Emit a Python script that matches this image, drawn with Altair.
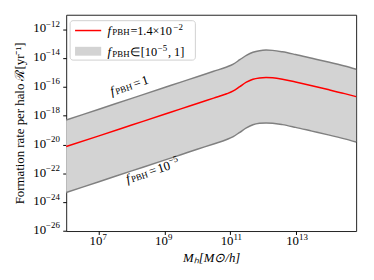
import altair as alt
import pandas as pd

# --- data (log10 values) ---
log_mass = [6.0, 7.0, 8.0, 9.0, 9.5, 10.0, 10.5, 10.9, 11.1, 11.3, 11.5, 11.7,
            11.9, 12.1, 12.3, 12.6, 13.0, 13.5, 14.0, 14.5, 14.85]
log_rate_f1 = [-18.30, -17.55, -16.80, -16.05, -15.67, -15.30, -14.92, -14.62,
               -14.42, -14.12, -13.82, -13.60, -13.49, -13.45, -13.47, -13.57,
               -13.76, -14.02, -14.28, -14.56, -14.78]
log_rate_best = [-20.14, -19.40, -18.65, -17.90, -17.53, -17.15, -16.78, -16.48,
                 -16.28, -15.98, -15.68, -15.47, -15.38, -15.35, -15.37, -15.47,
                 -15.67, -15.92, -16.19, -16.47, -16.68]
log_rate_f5 = [-23.33, -22.58, -21.83, -21.08, -20.71, -20.33, -19.96, -19.65,
               -19.45, -19.15, -18.85, -18.63, -18.53, -18.50, -18.52, -18.62,
               -18.81, -19.07, -19.33, -19.61, -19.83]

x_ticks = [7, 9, 11, 13]
y_ticks = [-26, -24, -22, -20, -18, -16, -14, -12]

df = pd.DataFrame({
    "m": [10 ** v for v in log_mass],
    "up": [10 ** v for v in log_rate_f1],
    "mid": [10 ** v for v in log_rate_best],
    "lo": [10 ** v for v in log_rate_f5],
})

SERIF = "Liberation Serif"
H = 219.3  # plot height


def exp_str(e):
    return str(e).replace("-", "−")


xs = alt.Scale(type="log", domain=[1e6, 10 ** 14.85], nice=False)
ys = alt.Scale(type="log", domain=[1e-26, 1e-11], nice=False)

X = alt.X("m:Q", scale=xs, axis=alt.Axis(
    values=[10 ** e for e in x_ticks], labels=False,
    title="Mₕ[M⊙/h]", titleFontStyle="italic"))
Y = alt.Y("up:Q", scale=ys, axis=alt.Axis(
    values=[10 ** e for e in y_ticks], labels=False,
    title="Formation rate per halo ℛ[yr⁻¹]"))

base = alt.Chart(df)
band = base.mark_area(color="#d3d3d3", opacity=1, interpolate="monotone").encode(
    x=X, y=Y, y2="lo:Q")
upper = base.mark_line(color="#808080", strokeWidth=1.5, interpolate="monotone").encode(
    x="m:Q", y="up:Q")
lower = base.mark_line(color="#808080", strokeWidth=1.5, interpolate="monotone").encode(
    x="m:Q", y="lo:Q")
mid = base.mark_line(color="#ff0000", strokeWidth=1.5, interpolate="monotone").encode(
    x="m:Q", y="mid:Q")


def txt(data, size=13, style="normal", **kw):
    return alt.Chart(data).mark_text(font=SERIF, fontSize=size, fontStyle=style,
                                     color="black", baseline="alphabetic", **kw)


# tick labels 10^n, drawn as base + raised exponent
xt = pd.DataFrame({"m": [10 ** e for e in x_ticks], "e": [exp_str(e) for e in x_ticks]})
yt = pd.DataFrame({"up": [10 ** e for e in y_ticks], "e": [exp_str(e) for e in y_ticks]})
tick_layers = [
    txt(xt, align="right", dx=3.5).encode(x="m:Q", y=alt.value(H + 14.4), text=alt.value("10")),
    txt(xt, size=9, align="left", dx=3.5).encode(x="m:Q", y=alt.value(H + 8.7), text="e:N"),
    txt(yt, align="right", dy=3.3).encode(x=alt.value(-20.4), y="up:Q", text=alt.value("10")),
    txt(yt, size=9, align="left", dy=-2.7).encode(x=alt.value(-20.4), y="up:Q", text="e:N"),
]

# rotated curve annotations: f_PBH = 1 and f_PBH = 1e-5
ann_hi = pd.DataFrame({"m": [10 ** 7.39], "up": [10 ** -16.6]})
ann_lo = pd.DataFrame({"m": [10 ** 7.87], "up": [10 ** -22.69]})
ann_layers = []
for d, parts in [(ann_hi, [("f", 0, 13, "italic", 0), ("PBH", 5.0, 9, "normal", 0.5),
                           ("=", 24.5, 13, "normal", 0), ("1", 33.5, 13, "normal", 0)]),
                 (ann_lo, [("f", 0, 13, "italic", 0), ("PBH", 5.0, 9, "normal", 0.5),
                           ("=", 24.5, 13, "normal", 0), ("10", 33.5, 13, "normal", 0),
                           ("−5", 46.5, 9, "normal", -5.5)])]:
    for s, dx, size, style, dy in parts:
        ann_layers.append(txt(d, size=size, style=style, angle=342, align="left", dx=dx, dy=dy).encode(
            x="m:Q", y="up:Q", text=alt.value(s)))

# legend (drawn by hand so the subscript can be reproduced)
one = pd.DataFrame({"k": [0]})
leg_box = alt.Chart(one).mark_rect(fill="white", stroke="#cccccc", strokeWidth=1, cornerRadius=3,
                                   opacity=0.9).encode(
    x=alt.value(4), x2=alt.value(131), y=alt.value(6), y2=alt.value(46))
leg_line = alt.Chart(one).mark_rule(color="#ff0000", strokeWidth=1.5).encode(
    x=alt.value(9), x2=alt.value(35.5), y=alt.value(16))
leg_patch = alt.Chart(one).mark_rect(color="#d3d3d3").encode(
    x=alt.value(9), x2=alt.value(35.5), y=alt.value(32.5), y2=alt.value(41.5))
leg_parts = [
    # (text, x, baseline y, size, style)
    ("f", 42, 20.5, 13, "italic"), ("PBH", 46.8, 21, 9, "normal"),
    ("=", 65.3, 20.5, 12.5, "normal"), ("1.4×10", 72, 20.5, 12.5, "normal"),
    ("−2", 108.8, 15, 9, "normal"),
    ("f", 42, 42.3, 13, "italic"), ("PBH", 46.8, 42.8, 9, "normal"),
    ("∈", 64.8, 42.3, 12.5, "normal"), ("[10", 75.5, 42.3, 12.5, "normal"),
    ("−5", 92.8, 36.8, 9, "normal"), (", 1]", 103.2, 42.3, 12.5, "normal"),
]
leg_texts = [txt(one, size=sz, style=st, align="left").encode(
    x=alt.value(px), y=alt.value(py), text=alt.value(s)) for s, px, py, sz, st in leg_parts]

chart = alt.layer(band, upper, lower, mid, *tick_layers, *ann_layers, leg_box, leg_line, leg_patch,
                  *leg_texts).properties(
    width=294, height=H,
    autosize=alt.AutoSizeParams(type="none"),
    padding={"left": 59, "top": 5, "right": 10, "bottom": 40},
).configure_view(stroke="#222222", strokeWidth=1).configure_axis(
    grid=False, domain=False, tickColor="black", tickSize=3.5, tickWidth=1,
    titleFont=SERIF, titleFontSize=13, titleFontWeight="normal", titleColor="black",
).configure_axisY(titlePadding=36).configure_axisX(titlePadding=17)

chart.save("out.html", embed_options={"renderer": "svg", "actions": False})
